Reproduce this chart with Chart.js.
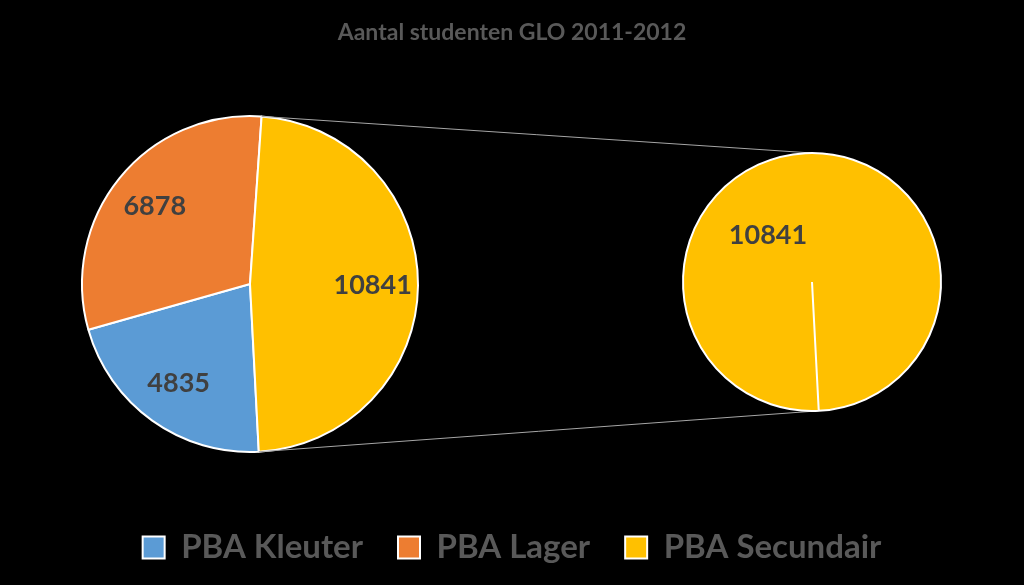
<!DOCTYPE html>
<html>
<head>
<meta charset="utf-8">
<script src="https://cdn.jsdelivr.net/npm/chart.js@4/dist/chart.umd.min.js"></script>
<style>
  html, body { margin: 0; padding: 0; background: #000; }
  #wrap { position: relative; width: 1024px; height: 585px; background: #000; }
  #wrap canvas { position: absolute; left: 0; top: 0; }
</style>
</head>
<body>
<div id="wrap">
  <canvas id="mainPie" width="1024" height="585"></canvas>
  <canvas id="subPie" width="1024" height="585"></canvas>
</div>
<script>
// ---- Data ----
const chartTitle = 'Aantal studenten GLO 2011-2012';
const categories = ['PBA Kleuter', 'PBA Lager', 'PBA Secundair'];
const values = [4835, 6878, 10841];
const secondaryCategories = ['PBA Secundair'];
const secondaryValues = [10841];

// ---- Styles ----
const sliceColors = ['#5B9BD5', '#ED7D31', '#FFC000'];
const secondaryColors = ['#FFC000'];
const FONT = 'Lato, "Open Sans", "Liberation Sans", sans-serif';

// place the pie inside a given square of the canvas
const placeArea = {
  id: 'placeArea',
  afterLayout(chart, args, o) {
    chart.chartArea = {
      left: o.left, top: o.top,
      right: o.left + o.size, bottom: o.top + o.size,
      width: o.size, height: o.size
    };
  }
};

// value labels on slices
const sliceLabels = {
  id: 'sliceLabels',
  afterDatasetsDraw(chart, args, o) {
    const ctx = chart.ctx;
    const meta = chart.getDatasetMeta(0);
    const ds = chart.data.datasets[0];
    ctx.save();
    ctx.font = o.font;
    ctx.fillStyle = o.color;
    ctx.textAlign = 'center';
    ctx.textBaseline = 'middle';
    meta.data.forEach((arc, i) => {
      const p = arc.getProps(['x', 'y', 'startAngle', 'endAngle', 'outerRadius'], true);
      const a = (o.angle != null) ? (o.angle - 90) * Math.PI / 180 : (p.startAngle + p.endAngle) / 2;
      const r = p.outerRadius * o.radial;
      ctx.fillText(String(ds.data[i]), p.x + Math.cos(a) * r, p.y + Math.sin(a) * r);
    });
    ctx.restore();
  }
};

const mainChart = new Chart(document.getElementById('mainPie'), {
  type: 'pie',
  data: {
    labels: categories,
    datasets: [{
      data: values,
      backgroundColor: sliceColors,
      borderColor: '#FFFFFF',
      borderWidth: 2,
      hoverOffset: 0
    }]
  },
  options: {
    responsive: false,
    animation: false,
    rotation: 177,
    layout: { padding: { top: 15, bottom: 11 } },
    plugins: {
      title: {
        display: true,
        text: chartTitle,
        color: '#595959',
        font: { family: FONT, size: 23, weight: 'bold' },
        padding: { top: 4, bottom: 10 }
      },
      legend: {
        position: 'bottom',
        labels: {
          color: '#595959',
          font: { family: FONT, size: 33, weight: 'bold' },
          boxWidth: 22,
          boxHeight: 22,
          padding: 35
        }
      },
      tooltip: { enabled: false },
      placeArea: { left: 81, top: 115, size: 338 },
      sliceLabels: { font: 'bold 27px ' + FONT, color: '#404040', radial: 0.73 }
    }
  },
  plugins: [placeArea, sliceLabels]
});

// connector lines between the Secundair slice and the secondary pie
const connectors = {
  id: 'connectors',
  beforeDatasetsDraw(chart, args, o) {
    const src = mainChart.getDatasetMeta(0).data[categories.indexOf(o.sourceCategory)];
    const s = src.getProps(['x', 'y', 'startAngle', 'endAngle', 'outerRadius'], true);
    const dst = chart.getDatasetMeta(0).data[0];
    const d = dst.getProps(['x', 'y', 'startAngle', 'outerRadius'], true);
    const ctx = chart.ctx;
    ctx.save();
    ctx.strokeStyle = o.color;
    ctx.lineWidth = o.width;
    ctx.beginPath();
    ctx.moveTo(s.x + Math.cos(s.startAngle) * s.outerRadius, s.y + Math.sin(s.startAngle) * s.outerRadius);
    ctx.lineTo(d.x, d.y - d.outerRadius);
    ctx.moveTo(s.x + Math.cos(s.endAngle) * s.outerRadius, s.y + Math.sin(s.endAngle) * s.outerRadius);
    ctx.lineTo(d.x + Math.cos(d.startAngle) * d.outerRadius, d.y + Math.sin(d.startAngle) * d.outerRadius);
    ctx.stroke();
    ctx.restore();
  }
};

const subChart = new Chart(document.getElementById('subPie'), {
  type: 'pie',
  data: {
    labels: secondaryCategories,
    datasets: [{
      data: secondaryValues,
      backgroundColor: secondaryColors,
      borderColor: '#FFFFFF',
      borderWidth: 2,
      hoverOffset: 0
    }]
  },
  options: {
    responsive: false,
    animation: false,
    rotation: 177,
    plugins: {
      title: { display: false },
      legend: { display: false },
      tooltip: { enabled: false },
      placeArea: { left: 682, top: 152, size: 260 },
      sliceLabels: { font: 'bold 27px ' + FONT, color: '#404040', radial: 0.5, angle: 317 },
      connectors: { sourceCategory: 'PBA Secundair', color: '#A6A6A6', width: 1 }
    }
  },
  plugins: [placeArea, connectors, sliceLabels]
});
</script>
</body>
</html>
